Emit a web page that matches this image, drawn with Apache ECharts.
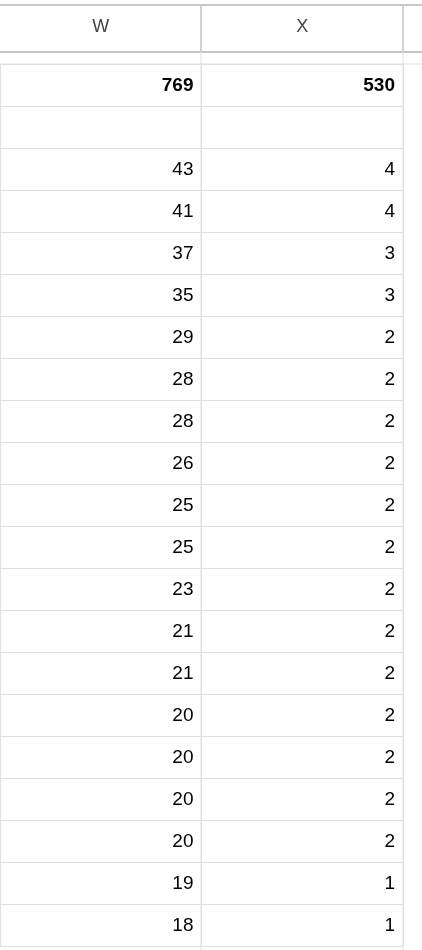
<!DOCTYPE html>
<html><head><meta charset="utf-8">
<script src="https://cdn.jsdelivr.net/npm/echarts@6/dist/echarts.min.js"></script>
<style>html,body{margin:0;background:#fff}#c{width:422px;height:950px}</style>
</head><body><div id="c"></div>
<script>
const columns = ['W', 'X'];
const totals = [769, 530];
const colW = [43, 41, 37, 35, 29, 28, 28, 26, 25, 25, 23, 21, 21, 20, 20, 20, 20, 19, 18];
const colX = [4, 4, 3, 3, 2, 2, 2, 2, 2, 2, 2, 2, 2, 2, 2, 2, 2, 1, 1];

const rows = ['total', 'blank'].concat(colW.map((_, i) => 'r' + i));
const cells = [];
totals.forEach((v, c) => cells.push([c, 0, v, 1]));
colW.forEach((v, i) => cells.push([0, i + 2, v, 0]));
colX.forEach((v, i) => cells.push([1, i + 2, v, 0]));

const chart = echarts.init(document.getElementById('c'));
chart.setOption({
  animation: false,
  grid: { left: 0, top: 64, width: 403, height: 42 * rows.length },
  xAxis: {
    type: 'category', data: columns, position: 'top',
    axisLine: { show: false }, axisTick: { show: false },
    axisLabel: { margin: 28, fontSize: 18, color: '#444', fontFamily: 'Arial, Liberation Sans' },
    splitLine: { show: true, lineStyle: { color: '#e0e0e0', width: 1 } }
  },
  yAxis: {
    type: 'category', data: rows, inverse: true,
    axisLine: { show: false }, axisTick: { show: false }, axisLabel: { show: false },
    splitLine: { show: true, lineStyle: { color: '#e0e0e0', width: 1 } }
  },
  graphic: [
    { type: 'line', shape: { x1: 0, y1: 5, x2: 422, y2: 5 }, style: { stroke: '#c8c8c8', lineWidth: 2 } },
    { type: 'line', shape: { x1: 0, y1: 52, x2: 422, y2: 52 }, style: { stroke: '#c4c4c4', lineWidth: 2 } },
    { type: 'line', shape: { x1: 0, y1: 64, x2: 422, y2: 64 }, style: { stroke: '#e0e0e0', lineWidth: 1 } },
    { type: 'line', shape: { x1: 201, y1: 5, x2: 201, y2: 52 }, style: { stroke: '#c4c4c4', lineWidth: 1.5 } },
    { type: 'line', shape: { x1: 403, y1: 5, x2: 403, y2: 52 }, style: { stroke: '#c4c4c4', lineWidth: 1.5 } },
    { type: 'line', shape: { x1: 201, y1: 52, x2: 201, y2: 950 }, style: { stroke: '#e0e0e0', lineWidth: 1 } },
    { type: 'line', shape: { x1: 403, y1: 52, x2: 403, y2: 950 }, style: { stroke: '#e0e0e0', lineWidth: 1 } }
  ],
  series: [{
    type: 'custom',
    data: cells,
    renderItem: function (params, api) {
      const p = api.coord([api.value(0), api.value(1)]);
      const bw = api.size([1, 0])[0];
      return {
        type: 'text',
        style: {
          x: p[0] + bw / 2 - 8, y: p[1] + 1,
          text: String(api.value(2)),
          align: 'right', verticalAlign: 'middle',
          fill: '#000',
          font: (api.value(3) ? 'bold ' : '') + '19px Arial, "Liberation Sans", sans-serif'
        }
      };
    }
  }]
});
</script></body></html>
